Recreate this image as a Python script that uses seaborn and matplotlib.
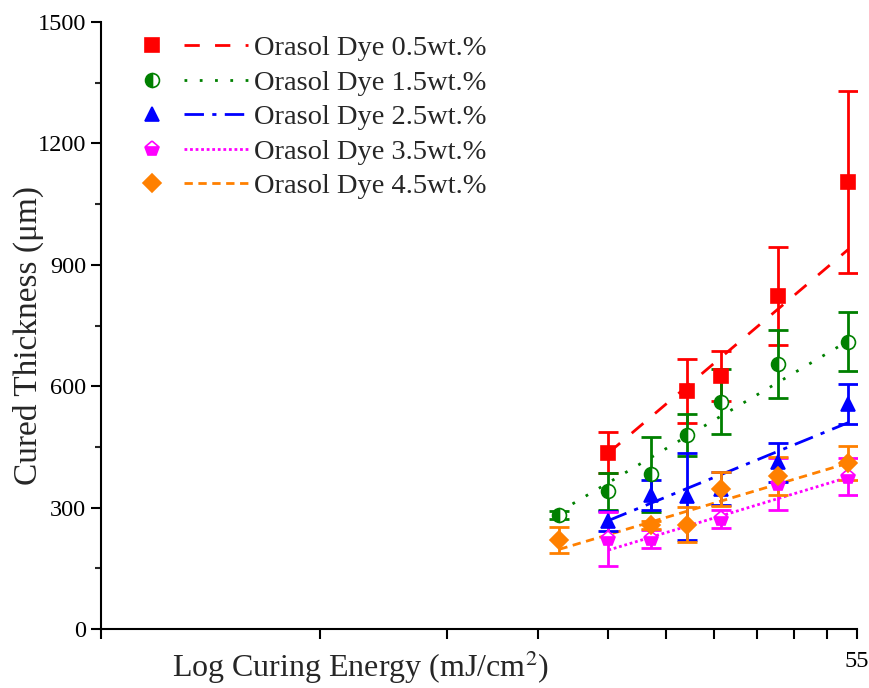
import matplotlib
matplotlib.use("Agg")
import matplotlib.pyplot as plt
from matplotlib.lines import Line2D
from matplotlib.legend_handler import HandlerBase
import seaborn as sns
import pandas as pd

# ---------------- data ----------------
labels = ["Orasol Dye 0.5wt.%", "Orasol Dye 1.5wt.%", "Orasol Dye 2.5wt.%",
          "Orasol Dye 3.5wt.%", "Orasol Dye 4.5wt.%"]

x_05 = [25.0, 32.1, 35.7, 42.8, 53.5]
y_05 = [436, 588, 625, 823, 1104]
e_05 = [51, 79, 62, 121, 225]

x_15 = [21.4, 25.0, 28.6, 32.1, 35.7, 42.8, 53.5]
y_15 = [282, 340, 382, 480, 562, 656, 710]
e_15 = [10, 45, 93, 52, 80, 84, 73]

x_25 = [25.0, 28.6, 32.1, 35.7, 42.8, 53.5]
y_25 = [266, 331, 328, 347, 412, 556]
e_25 = [25, 38, 107, 41, 48, 50]

x_35 = [25.0, 28.6, 35.7, 42.8, 53.5]
y_35 = [222, 222, 271, 358, 376]
e_35 = [66, 22, 22, 65, 46]

x_45 = [21.4, 28.6, 32.1, 35.7, 42.8, 53.5]
y_45 = [220, 257, 258, 346, 378, 410]
e_45 = [31, 10, 44, 42, 48, 42]

# fitted working-curve values at first / last energy of each series
fit_start = [435, 290, 268, 195, 197]
fit_end = [938, 712, 510, 375, 410]

x_ticks = [5, 10, 15, 20, 25, 30, 35, 40, 45, 50, 55]
x_tick_labels = ["", "", "", "", "", "", "", "", "", "", "55"]
y_ticks = [0, 300, 600, 900, 1200, 1500]

# ---------------- style ----------------
sns.set_style("ticks")
plt.rcParams["font.family"] = ["Liberation Serif", "DejaVu Serif"]
plt.rcParams["mathtext.fontset"] = "stix"

colors = ["#FF0000", "#008000", "#0000FF", "#FF00FF", "#FF8000"]
markers = ["s", "o", "^", "p", "D"]
fills = ["full", "left", "full", "bottom", "full"]
msizes = [10, 10, 10, 11, 9]
dashes = [(5.5, 5.5), (1, 4.5), (7, 3, 1.5, 3), (1, 1), (3, 2)]

xs = [x_05, x_15, x_25, x_35, x_45]
ys = [y_05, y_15, y_25, y_35, y_45]
es = [e_05, e_15, e_25, e_35, e_45]

fig = plt.figure(figsize=(8.7, 6.88), dpi=100)
ax = fig.add_axes([101 / 870, 1 - 629 / 688, 756 / 870, 607 / 688])

handles = []
for i in range(5):
    fit_df = pd.DataFrame({"E": [xs[i][0], xs[i][-1]],
                           "C": [fit_start[i], fit_end[i]]})
    sns.lineplot(data=fit_df, x="E", y="C", ax=ax, color=colors[i],
                 linewidth=2, zorder=2)
    ln = ax.lines[-1]
    ln.set_dashes(dashes[i])

    ax.errorbar(xs[i], ys[i], yerr=es[i], fmt="none", ecolor=colors[i],
                elinewidth=2, capsize=7, capthick=2, zorder=3)
    mk, = ax.plot(xs[i], ys[i], linestyle="none", marker=markers[i],
                  markersize=msizes[i], color=colors[i],
                  markerfacecolor=colors[i], markerfacecoloralt="white",
                  markeredgecolor=colors[i], markeredgewidth=1.2,
                  fillstyle=fills[i], zorder=4)
    handles.append((mk, ln))


class MarkerThenLine(HandlerBase):
    def create_artists(self, legend, orig_handle, xdescent, ydescent,
                       width, height, fontsize, trans):
        mk, ln = orig_handle
        y = height / 2 - ydescent
        m = Line2D([-xdescent + 0.18 * width], [y])
        m.update_from(mk)
        m.set_data([-xdescent + 0.18 * width], [y])
        m.set_transform(trans)
        l = Line2D([-xdescent + 0.45 * width, -xdescent + width], [y, y])
        l.update_from(ln)
        l.set_data([-xdescent + 0.45 * width, -xdescent + width], [y, y])
        l.set_transform(trans)
        return [m, l]


ax.legend(handles, labels, handler_map={tuple: MarkerThenLine()},
          loc="upper left", bbox_to_anchor=(0.04, 0.978), frameon=False,
          fontsize=20.5, handlelength=4.1, handletextpad=0.2,
          labelspacing=0.3, borderpad=0, borderaxespad=0)

ax.set_xscale("log")
ax.set_xlim(5, 55)
ax.set_ylim(0, 1500)
ax.set_xticks(x_ticks)
ax.set_xticklabels(x_tick_labels)
ax.xaxis.set_minor_locator(matplotlib.ticker.NullLocator())
ax.set_yticks(y_ticks)
ax.yaxis.set_minor_locator(matplotlib.ticker.MultipleLocator(150))

ax.tick_params(axis="both", which="major", direction="out", length=7,
               width=1.5, labelsize=17.5, colors="black")
ax.tick_params(axis="x", which="major", pad=9)
ax.tick_params(axis="y", which="minor", direction="out", length=4, width=1.5)

for s in ["top", "right"]:
    ax.spines[s].set_visible(False)
for s in ["left", "bottom"]:
    ax.spines[s].set_linewidth(1.5)
    ax.spines[s].set_color("black")

ax.set_xlabel("Log Curing Energy (mJ/cm$^2$)", fontsize=23)
ax.set_ylabel("Cured Thickness (μm)", fontsize=24)
ax.xaxis.set_label_coords(0.344, -0.032)
ax.yaxis.set_label_coords(-0.076, 0.484)

fig.savefig("out.png", dpi=100)
